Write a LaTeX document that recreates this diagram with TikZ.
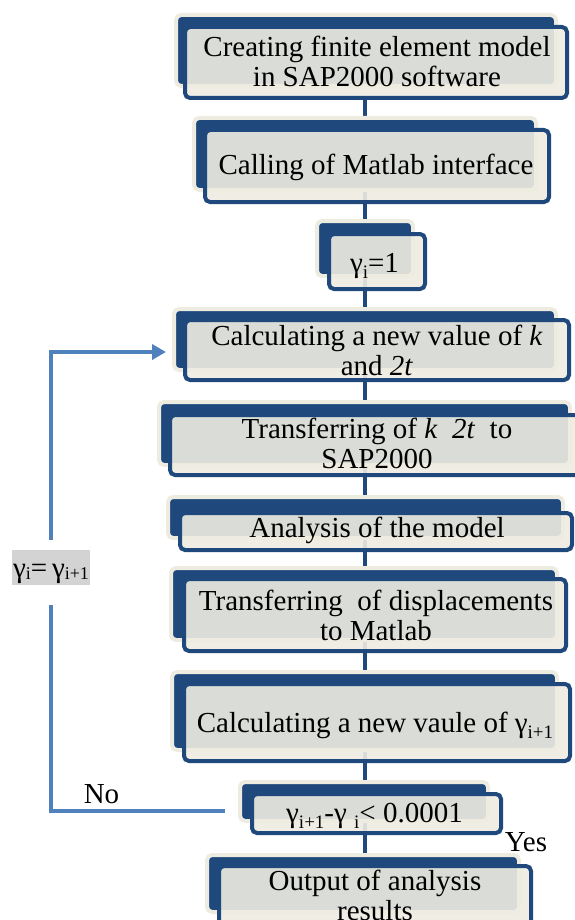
\documentclass[tikz,border=0pt]{standalone}
\usepackage{fontspec}
\setmainfont{Liberation Serif}
\usetikzlibrary{fit,backgrounds,arrows.meta}
\definecolor{dkblue}{HTML}{1F497D}
\definecolor{cream}{HTML}{EEECE1}
\definecolor{ltblue}{HTML}{4F81BD}
\definecolor{lblgrey}{HTML}{D3D3D3}
\newcommand\sbs[1]{\raisebox{-6pt}{\fontsize{19}{19}\selectfont #1}}
\newcommand\sbl[1]{\raisebox{-2pt}{\fontsize{18}{18}\selectfont #1}}
\begin{document}
\begin{tikzpicture}[x=1pt,y=-1pt,
  backbox/.style={draw=cream, line width=4pt, fill=dkblue, rounded corners=5pt, inner sep=0pt},
  frontbox/.style={draw=dkblue, line width=4pt, fill=cream, fill opacity=0.9, draw opacity=1, rounded corners=5pt, inner sep=0pt},
  txt/.style={font=\fontsize{29}{30}\selectfont, align=center, inner sep=0pt, text=black},
  spine/.style={draw=dkblue, line width=4pt},
  loopline/.style={draw=ltblue, line width=3.5pt},
  lbl/.style={fill=lblgrey, minimum width=78pt, minimum height=35pt, inner sep=0pt,
     text height=25pt, text depth=6pt, font=\fontsize{29}{30}\selectfont}
]
\useasboundingbox (0,0) rectangle (575,920);

% box 1
\node[backbox, fit={(176,15)(556,86)}] (b1b) {};
\node[frontbox, fit={(185,27)(567,98)}] (b1f) {};
\node[txt] (t1) at (377,61.2) {Creating finite element model\\in SAP2000 software};
% box 2
\node[backbox, fit={(194,118)(536,190)}] (b2b) {};
\node[frontbox, fit={(205,130)(549,202)}] (b2f) {};
\node[txt] (t2) at (376,167.2) {Calling of Matlab interface};
% box 3
\node[backbox, fit={(317,221)(413,276)}] (b3b) {};
\node[frontbox, fit={(329,234)(425,289)}] (b3f) {};
\node[txt] (t3) at (374.5,266.4) {γ\sbs{i}=1};
% box 4
\node[backbox, fit={(174,309)(556,370)}] (b4b) {};
\node[frontbox, fit={(185,320)(569,380)}] (b4f) {};
\node[txt] (t4) at (377,350.1) {Calculating a new value of \textit{k}\\and \textit{2t}};
% box 5
\node[backbox, fit={(159,402)(570,465)}] (b5b) {};
\node[frontbox, fit={(170,415)(590,475)}] (b5f) {};
\node[txt] (t5) at (377,443.1) {Transferring of \textit{k}\ \ \textit{2t}\ \ to\\SAP2000};
% box 6
\node[backbox, fit={(168,497)(563,538)}] (b6b) {};
\node[frontbox, fit={(180,513)(572,550)}] (b6f) {};
\node[txt] (t6) at (377,530.2) {Analysis of the model};
% box 7
\node[backbox, fit={(171,568)(557,640)}] (b7b) {};
\node[frontbox, fit={(184,579)(566,651)}] (b7f) {};
\node[txt] (t7) at (376,615.1) {Transferring\ \ of displacements\\to Matlab};
% box 8
\node[backbox, fit={(172,672)(557,750)}] (b8b) {};
\node[frontbox, fit={(184,684)(570,761)}] (b8f) {};
\node[txt] (t8) at (375,725.3) {Calculating a new vaule of γ\sbs{i+1}};
% box 9
\node[backbox, fit={(240,782)(488,821)}] (b9b) {};
\node[frontbox, fit={(252,794)(501,833)}] (b9f) {};
\node[txt] (t9) at (374.5,816.3) {γ\sbs{i+1}-γ \sbs{i}< 0.0001};
% box 10
\node[backbox, fit={(207,855)(519,912)}] (b10b) {};
\node[frontbox, fit={(219,866)(531,940)}] (b10f) {};
\node[txt] (t10) at (375,895.1) {Output of analysis\\results};

% labels
\node[txt, anchor=base] (no) at (101.5,803) {No};
\node[txt, anchor=base] (yes) at (526,851) {Yes};

% main spine behind everything
\coordinate (sp) at (365,0);
\begin{pgfonlayer}{background}
  \draw[spine] (b1f.south -| sp) -- (b10f.north -| sp);
\end{pgfonlayer}

% feedback loop
\coordinate (cBL) at (51,811);
\coordinate (cTL) at (51,352);
\coordinate (gapT) at (51,540);
\coordinate (gapB) at (51,605);
\draw[loopline, shorten <=13pt] (b9b.west |- cBL) -- (cBL) -- (gapB);
\draw[loopline, shorten >=6pt, -{Triangle[length=14pt,width=15pt]}] (gapT) -- (cTL) -- (cTL -| b4b.west);
\node[lbl] (lbl) at (51,567.5) {γ\sbl{i}=\,γ\sbl{i+1}};
\end{tikzpicture}
\end{document}
